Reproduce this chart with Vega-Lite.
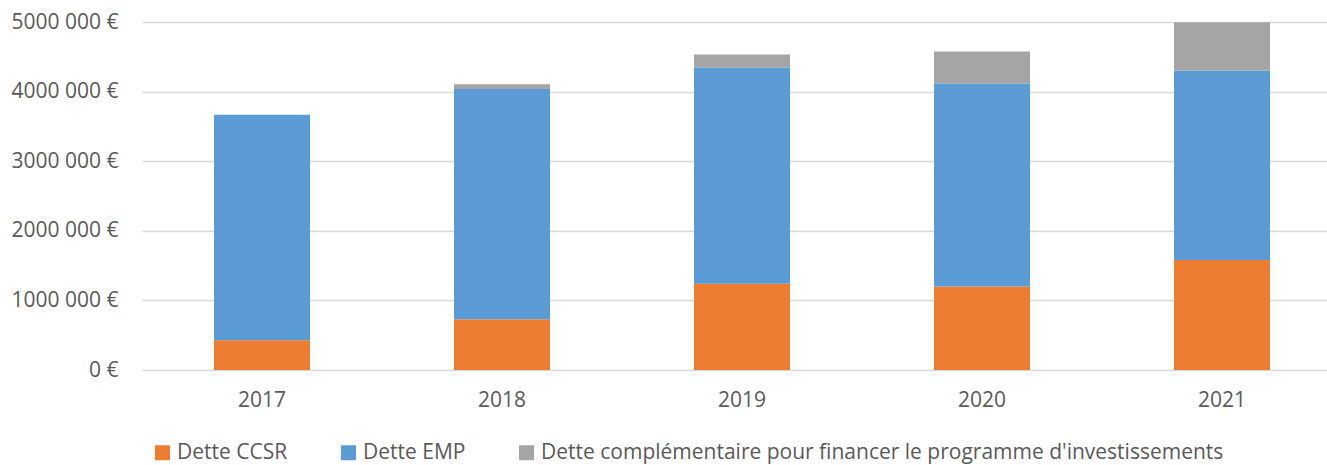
{
  "$schema": "https://vega.github.io/schema/vega-lite/v6.json",
  "autosize": "none",
  "width": 1185,
  "height": 348,
  "padding": {"left": 142, "top": 22, "right": 0, "bottom": 95},
  "background": "white",
  "config": {
    "font": "Open Sans",
    "view": {"stroke": null}
  },
  "data": {
    "values": [
      {"year": "2017", "serie": "Dette CCSR", "ordre": 1, "montant": 426000},
      {"year": "2017", "serie": "Dette EMP", "ordre": 2, "montant": 3242000},
      {"year": "2017", "serie": "Dette complémentaire pour financer le programme d'investissements", "ordre": 3, "montant": 0},
      {"year": "2018", "serie": "Dette CCSR", "ordre": 1, "montant": 729000},
      {"year": "2018", "serie": "Dette EMP", "ordre": 2, "montant": 3309000},
      {"year": "2018", "serie": "Dette complémentaire pour financer le programme d'investissements", "ordre": 3, "montant": 67000},
      {"year": "2019", "serie": "Dette CCSR", "ordre": 1, "montant": 1238000},
      {"year": "2019", "serie": "Dette EMP", "ordre": 2, "montant": 3108000},
      {"year": "2019", "serie": "Dette complémentaire pour financer le programme d'investissements", "ordre": 3, "montant": 188000},
      {"year": "2020", "serie": "Dette CCSR", "ordre": 1, "montant": 1200000},
      {"year": "2020", "serie": "Dette EMP", "ordre": 2, "montant": 2915000},
      {"year": "2020", "serie": "Dette complémentaire pour financer le programme d'investissements", "ordre": 3, "montant": 462000},
      {"year": "2021", "serie": "Dette CCSR", "ordre": 1, "montant": 1580000},
      {"year": "2021", "serie": "Dette EMP", "ordre": 2, "montant": 2723000},
      {"year": "2021", "serie": "Dette complémentaire pour financer le programme d'investissements", "ordre": 3, "montant": 693000}
    ]
  },
  "mark": {"type": "bar"},
  "encoding": {
    "x": {
      "field": "year",
      "type": "nominal",
      "sort": null,
      "scale": {"range": [0, 1200], "paddingInner": 0.6, "paddingOuter": 0.3},
      "axis": {
        "title": null,
        "domain": false,
        "ticks": false,
        "labelAngle": 0,
        "labelFontSize": 21,
        "labelColor": "#595959",
        "labelPadding": 19
      }
    },
    "y": {
      "field": "montant",
      "type": "quantitative",
      "stack": "zero",
      "scale": {"domain": [0, 5000000], "nice": false},
      "axis": {
        "title": null,
        "domain": false,
        "ticks": false,
        "values": [0, 1000000, 2000000, 3000000, 4000000, 5000000],
        "labelExpr": "datum.value == 0 ? '0 €' : format(datum.value / 1000, 'd') + ' 000 €'",
        "labelFontSize": 21,
        "labelColor": "#595959",
        "labelPadding": 24,
        "gridColor": "#d9d9d9",
        "gridWidth": 1.5
      }
    },
    "color": {
      "field": "serie",
      "type": "nominal",
      "sort": ["Dette CCSR", "Dette EMP", "Dette complémentaire pour financer le programme d'investissements"],
      "scale": {
        "domain": ["Dette CCSR", "Dette EMP", "Dette complémentaire pour financer le programme d'investissements"],
        "range": ["#ED7D31", "#5B9BD5", "#A5A5A5"]
      },
      "legend": {
        "title": null,
        "orient": "none",
        "direction": "horizontal",
        "legendX": 10,
        "legendY": 420,
        "symbolType": "square",
        "symbolSize": 225,
        "symbolStrokeWidth": 0,
        "labelFontSize": 21,
        "labelColor": "#595959",
        "labelOffset": 4,
        "labelLimit": 800,
        "columnPadding": 50
      }
    },
    "order": {"field": "ordre", "type": "quantitative"}
  }
}
